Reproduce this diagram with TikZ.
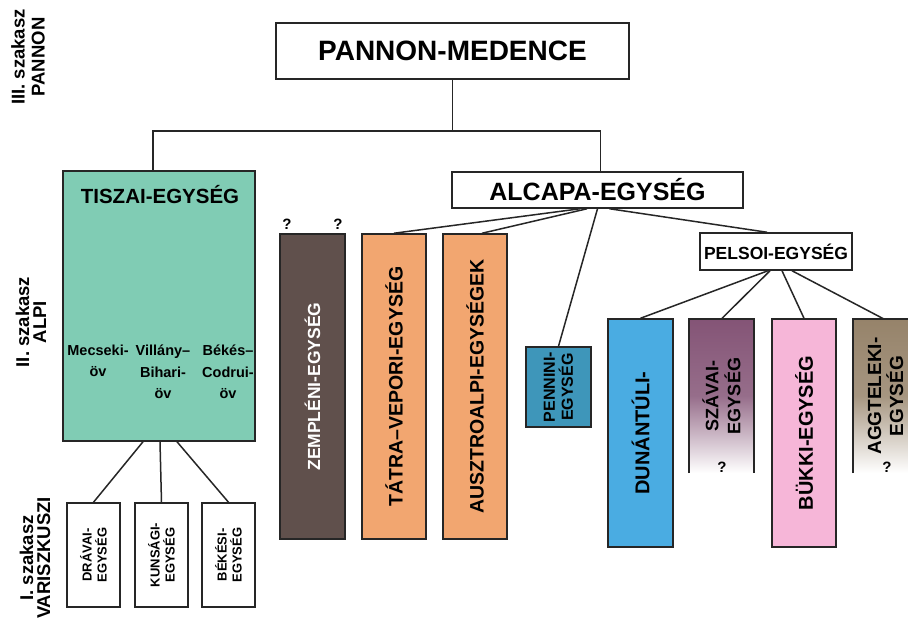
\documentclass[tikz,border=0pt]{standalone}
\usepackage{fontspec}
\setmainfont{Liberation Sans}
\definecolor{tiszaigreen}{RGB}{128,204,180}
\definecolor{zemplenbrown}{RGB}{96,80,76}
\definecolor{alpiorange}{RGB}{242,166,112}
\definecolor{penninblue}{RGB}{62,150,186}
\definecolor{dunablue}{RGB}{74,172,226}
\definecolor{szavapurple}{RGB}{132,84,118}
\definecolor{bukkpink}{RGB}{246,182,216}
\definecolor{aggtaupe}{RGB}{150,131,106}
\begin{document}
\begin{tikzpicture}[x=1pt,y=-1pt,
  unit/.style={draw=black!85, line width=1.5pt, inner sep=0pt},
  link/.style={draw=black!85, line width=1.5pt},
  txt/.style 2 args={font=\bfseries\fontsize{#1}{#2}\selectfont, align=center, inner sep=0pt},
  vlab/.style 2 args={rotate=90, font=\bfseries\fontsize{#1}{#2}\selectfont, align=center, inner sep=0pt},
  qmark/.style={font=\bfseries\fontsize{15}{15}\selectfont, inner sep=0pt}]
  \clip (0,0) rectangle (908,619);
  \fill[white] (0,0) rectangle (908,619);
  % stage labels
  \node[vlab={18.5}{20}] (lab3) at (28,57) {III. szakasz\\PANNON};
  \node[vlab={18.5}{17}] (lab2) at (31,322) {II. szakasz\\ALPI};
  \node[vlab={18.5}{17}] (lab1) at (35,558) {I. szakasz\\VARISZKUSZI};
  % top
  \node[unit, minimum width=353, minimum height=56, txt={28}{30}] (pannon) at (452.5,51) {PANNON-MEDENCE};
  \node[unit, minimum width=291, minimum height=36, txt={25}{27}] (alcapa) at (597.5,190) {ALCAPA-EGYSÉG};
  % Tiszai
  \node[unit, fill=tiszaigreen, minimum width=192, minimum height=270] (tiszai) at (159,306) {};
  \node[txt={20.5}{22}] (tiszaititle) at (160,195) {TISZAI-EGYSÉG};
  \node[txt={14.5}{21.5}] (mecsek) at (98,361) {Mecseki-\\öv};
  \node[txt={14.5}{21.5}] (villany) at (163,372) {Villány--\\Bihari-\\öv};
  \node[txt={14.5}{21.5}] (bekes) at (228,372) {Békés--\\Codrui-\\öv};
  \node[unit, minimum width=53, minimum height=104, label={[vlab={13}{15}]center:DRÁVAI-\\EGYSÉG}] (dravai) at (93.5,555) {};
  \node[unit, minimum width=53, minimum height=104, label={[vlab={13}{15}]center:KUNSÁGI-\\EGYSÉG}] (kunsag) at (161.5,555) {};
  \node[unit, minimum width=53, minimum height=104, label={[vlab={13}{15}]center:BÉKÉSI-\\EGYSÉG}] (bekesi) at (228.5,555) {};
  % Alcapa children
  \node[unit, fill=zemplenbrown, minimum width=65, minimum height=305, label={[vlab={17.5}{19}, text=white]center:ZEMPLÉNI-EGYSÉG}] (zemplen) at (312.5,386.5) {};
  \node[unit, fill=alpiorange, minimum width=64, minimum height=305, label={[vlab={19.5}{21}]center:TÁTRA--VEPORI-EGYSÉG}] (tatra) at (394,386.5) {};
  \node[unit, fill=alpiorange, minimum width=64, minimum height=305, label={[vlab={19.5}{21}]center:AUSZTROALPI-EGYSÉGEK}] (ausztro) at (475,386.5) {};
  \node[unit, fill=penninblue, minimum width=65, minimum height=80, label={[vlab={16}{18}]center:PENNINI-\\EGYSÉG}] (pennin) at (558.5,387) {};
  \node[unit, minimum width=152, minimum height=37, txt={17.5}{19}] (pelso) at (776,251.5) {PELSOI-EGYSÉG};
  % Pelso children
  \node[unit, fill=dunablue, minimum width=65, minimum height=228, label={[vlab={20}{22}]center:DUNÁNTÚLI-}] (dunantul) at (640.5,433) {};
  \node[inner sep=0pt, minimum width=65, minimum height=154, top color=szavapurple, bottom color=white, middle color=szavapurple!85, label={[vlab={18}{22}]center:SZÁVAI-\\EGYSÉG}] (szava) at (721.5,396) {};
  \node[unit, fill=bukkpink, minimum width=64, minimum height=228, label={[vlab={20}{22}]center:BÜKKI-EGYSÉG}] (bukk) at (804,433) {};
  \node[inner sep=0pt, minimum width=65, minimum height=154, top color=aggtaupe, bottom color=white, middle color=aggtaupe!85, label={[vlab={19}{22}]center:AGGTELEKI-\\EGYSÉG}] (aggtelek) at (885.5,396) {};
  \draw[link] (szava.south west) |- (szava.north east) -- (szava.south east);
  \draw[link] (aggtelek.south west) |- (aggtelek.north east) -- (aggtelek.south east);
  % question marks
  \node[qmark] (q1) at (287,224) {?};
  \node[qmark] (q2) at (338,224) {?};
  \node[qmark] (q3) at (722,467) {?};
  \node[qmark] (q4) at (887,467) {?};
  % connectors
  \coordinate (fork) at (452.5,131);
  \draw[link] (pannon.south) -- (fork);
  \draw[link] ([xshift=-6]tiszai.north) |- (fork) -| ([xshift=3]alcapa.north);
  \draw[link] ([xshift=-16]tiszai.south) -- (dravai.north);
  \draw[link] ([xshift=1]tiszai.south) -- (kunsag.north);
  \draw[link] ([xshift=18]tiszai.south) -- (bekesi.north);
  \draw[link] ([xshift=-17.5]alcapa.south) -- (tatra.north);
  \draw[link] ([xshift=-10.5]alcapa.south) -- ([xshift=7]ausztro.north);
  \draw[link] (alcapa.south) -- (pennin.north);
  \draw[link] ([xshift=12]alcapa.south) -- ([xshift=-9]pelso.north);
  \draw[link] ([xshift=-8]pelso.south) -- (dunantul.north);
  \draw[link] ([xshift=-6]pelso.south) -- (szava.north);
  \draw[link] ([xshift=6]pelso.south) -- (bukk.north);
  \draw[link] ([xshift=16]pelso.south) -- ([xshift=-2]aggtelek.north);
\end{tikzpicture}
\end{document}
